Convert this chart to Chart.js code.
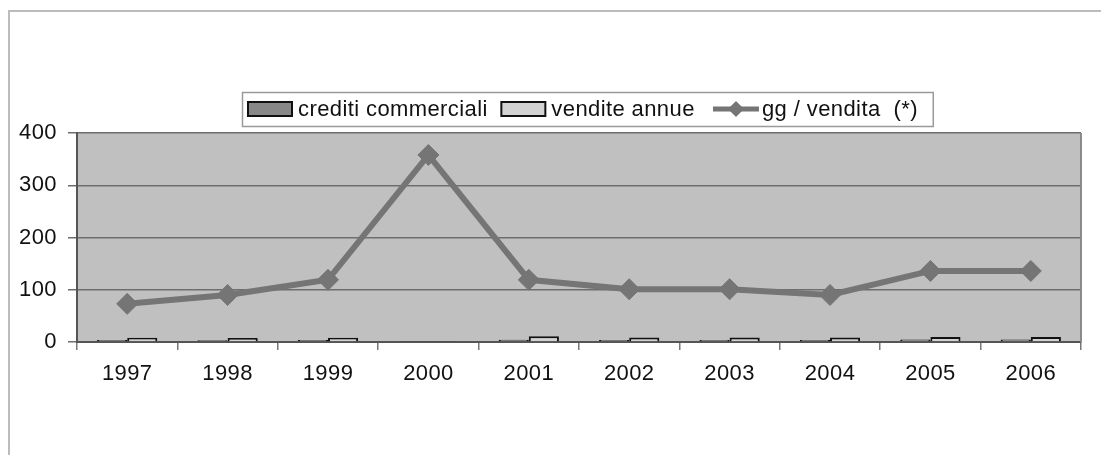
<!DOCTYPE html>
<html>
<head>
<meta charset="utf-8">
<script src="https://cdn.jsdelivr.net/npm/chart.js@4/dist/chart.umd.min.js"></script>
<style>
  html, body { margin: 0; padding: 0; background: #fff; }
  #wrap { width: 1101px; height: 455px; }
</style>
</head>
<body>
<div id="wrap"><canvas id="c" width="1101" height="455"></canvas></div>
<script>
// Anni e serie
const anni = ['1997', '1998', '1999', '2000', '2001', '2002', '2003', '2004', '2005', '2006'];
const creditiCommerciali = [4, 3.5, 4, 1, 4.5, 4, 4, 4, 5, 5];
const venditeAnnue = [8, 7.5, 8, 1, 11, 8.5, 8.5, 8.5, 9.5, 9.5];
const ggVendita = [73, 90, 119, 358, 119, 101, 101, 90, 136, 136];
const tickY = [0, 100, 200, 300, 400];

const FONT_FAMILY = '"Liberation Sans", Arial, sans-serif';
const FONT_SIZE = 22;
const SPACING_PX = 0.4;

// Sfondo, cornice esterna e area del grafico
const framePlugin = {
  id: 'frame',
  beforeDraw(chart) {
    const ctx = chart.ctx;
    const a = chart.chartArea;
    ctx.letterSpacing = SPACING_PX + 'px';
    ctx.save();
    ctx.fillStyle = '#ffffff';
    ctx.fillRect(0, 0, chart.width, chart.height);
    ctx.strokeStyle = '#bcbcbc';
    ctx.lineWidth = 2;
    ctx.strokeRect(9, 11, chart.width + 50, chart.height + 50);
    ctx.fillStyle = '#c0c0c0';
    ctx.fillRect(a.left, a.top, a.right - a.left, a.bottom - a.top);
    ctx.restore();
  },
  beforeDatasetsDraw(chart) {
    const ctx = chart.ctx;
    const a = chart.chartArea;
    ctx.save();
    ctx.strokeStyle = '#8a8a8a';
    ctx.lineWidth = 2;
    ctx.beginPath();
    ctx.moveTo(a.right, a.top);
    ctx.lineTo(a.right, a.bottom);
    ctx.stroke();
    ctx.restore();
  }
};

// Legenda con riquadro
const legendBoxPlugin = {
  id: 'legendBox',
  afterDraw(chart) {
    const ctx = chart.ctx;
    const ds = chart.data.datasets;
    ctx.save();
    ctx.letterSpacing = SPACING_PX + 'px';
    ctx.font = FONT_SIZE + 'px ' + FONT_FAMILY;
    const textW = s => ctx.measureText(s).width + s.length * SPACING_PX;
    const boxLeft = 242, boxTop = 92, boxH = 34;
    const cy = boxTop + boxH / 2;
    const sw = 44, swH = 14;
    let x = 248;
    const items = [];
    for (let i = 0; i < 2; i++) {
      items.push({ type: 'bar', x, ds: ds[i] });
      x += sw + 6;
      items[i].tx = x;
      x += textW(ds[i].label) + (i === 0 ? 6 : 13);
    }
    items.push({ type: 'line', x, ds: ds[2] });
    x += 46 + 3;
    items[2].tx = x;
    x += textW(ds[2].label) + 8;
    const boxW = x - boxLeft;

    ctx.fillStyle = '#ffffff';
    ctx.fillRect(boxLeft, boxTop, boxW, boxH);
    ctx.strokeStyle = '#9a9a9a';
    ctx.lineWidth = 1.5;
    ctx.strokeRect(boxLeft + 0.5, boxTop + 0.5, boxW, boxH);

    for (const it of items) {
      if (it.type === 'bar') {
        ctx.fillStyle = it.ds.backgroundColor;
        ctx.fillRect(it.x, cy - swH / 2, sw, swH);
        ctx.strokeStyle = '#111';
        ctx.lineWidth = 2;
        ctx.strokeRect(it.x, cy - swH / 2, sw, swH);
      } else {
        ctx.strokeStyle = it.ds.borderColor;
        ctx.lineWidth = 5;
        ctx.beginPath();
        ctx.moveTo(it.x, cy);
        ctx.lineTo(it.x + 46, cy);
        ctx.stroke();
        const r = 8, mx = it.x + 23;
        ctx.fillStyle = it.ds.pointBackgroundColor;
        ctx.beginPath();
        ctx.moveTo(mx, cy - r);
        ctx.lineTo(mx + r, cy);
        ctx.lineTo(mx, cy + r);
        ctx.lineTo(mx - r, cy);
        ctx.closePath();
        ctx.fill();
      }
      ctx.fillStyle = '#111';
      ctx.textAlign = 'left';
      ctx.textBaseline = 'middle';
      ctx.fillText(it.ds.label, it.tx, cy + 1);
    }
    ctx.restore();
  }
};

new Chart(document.getElementById('c'), {
  type: 'bar',
  data: {
    labels: anni,
    datasets: [
      {
        type: 'bar',
        label: 'crediti commerciali',
        data: creditiCommerciali,
        backgroundColor: '#888888',
        borderColor: '#111',
        borderWidth: 2,
        categoryPercentage: 0.6,
        barPercentage: 1.0,
        order: 2
      },
      {
        type: 'bar',
        label: 'vendite annue',
        data: venditeAnnue,
        backgroundColor: '#d2d2d2',
        borderColor: '#111',
        borderWidth: 2,
        categoryPercentage: 0.6,
        barPercentage: 1.0,
        order: 2
      },
      {
        type: 'line',
        label: 'gg / vendita  (*)',
        data: ggVendita,
        borderColor: '#757575',
        backgroundColor: '#757575',
        pointBackgroundColor: '#757575',
        pointBorderColor: '#757575',
        borderWidth: 6,
        tension: 0,
        pointStyle: 'rectRot',
        pointRadius: 10.5,
        pointBorderWidth: 1,
        order: 0
      }
    ]
  },
  options: {
    responsive: false,
    animation: false,
    events: [],
    layout: { padding: { left: 0, top: 133, right: 20, bottom: 73 } },
    plugins: {
      legend: { display: false },
      tooltip: { enabled: false },
      title: { display: false }
    },
    scales: {
      x: {
        offset: true,
        grid: {
          offset: true,
          drawOnChartArea: false,
          drawTicks: true,
          tickLength: 8,
          color: '#777',
          lineWidth: 1.5
        },
        border: { color: '#555', width: 2 },
        ticks: {
          color: '#111',
          padding: 11,
          font: { size: FONT_SIZE, family: FONT_FAMILY },
          maxRotation: 0
        },
        afterFit(scale) { scale.height = 40; }
      },
      y: {
        min: 0,
        max: 400,
        afterBuildTicks(scale) { scale.ticks = tickY.map(v => ({ value: v })); },
        grid: {
          color: '#6e6e6e',
          lineWidth: 1.5,
          drawTicks: true,
          tickLength: 9
        },
        border: { color: '#555', width: 2 },
        ticks: {
          color: '#111',
          padding: 11,
          font: { size: FONT_SIZE, family: FONT_FAMILY }
        },
        afterFit(scale) { scale.width = 77; }
      }
    }
  },
  plugins: [framePlugin, legendBoxPlugin]
});
</script>
</body>
</html>
